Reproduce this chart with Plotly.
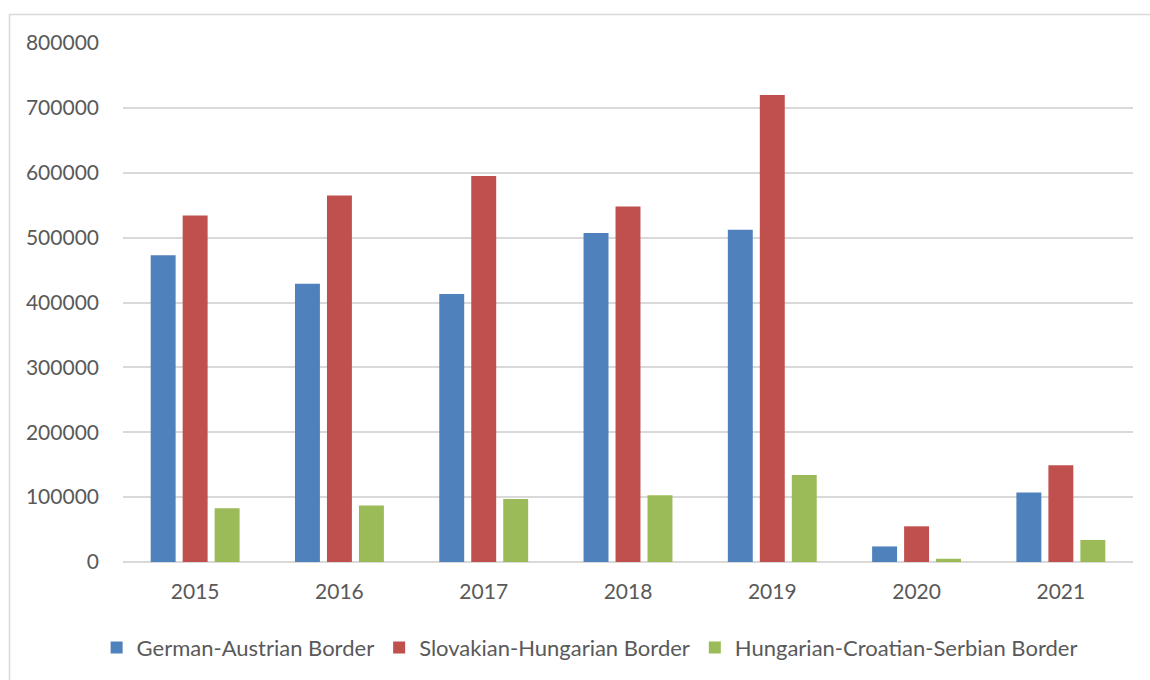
import plotly.graph_objects as go

years = ["2015", "2016", "2017", "2018", "2019", "2020", "2021"]
german_austrian = [473000, 429000, 413000, 507000, 512000, 24000, 107000]
slovakian_hungarian = [534000, 565000, 595000, 548000, 720000, 55000, 149000]
hungarian_croatian_serbian = [83000, 87000, 97000, 103000, 134000, 5000, 34000]

series_names = ["German-Austrian Border", "Slovakian-Hungarian Border",
                "Hungarian-Croatian-Serbian Border"]
colors = ["#4F81BD", "#C0504D", "#9BBB59"]
y_ticks = [0, 100000, 200000, 300000, 400000, 500000, 600000, 700000, 800000]

fig = go.Figure()
for name, vals, col in zip(series_names,
                           [german_austrian, slovakian_hungarian, hungarian_croatian_serbian],
                           colors):
    fig.add_trace(go.Bar(x=years, y=vals, name=name, marker_color=col,
                         marker_line_width=0))

font_fam = "Lato, 'Open Sans', sans-serif"
fig.update_layout(
    width=1150, height=680,
    margin=dict(l=123, r=17, t=43, b=117),
    paper_bgcolor="white", plot_bgcolor="white",
    barmode="group", bargap=0.335, bargroupgap=0.22,
    font=dict(family=font_fam, size=21, color="#595959"),
    showlegend=True,
    legend=dict(orientation="h", x=0.462, xanchor="center", y=-0.163, yanchor="middle",
                font=dict(size=22, color="#595959"), itemsizing="constant",
                traceorder="normal"),
    xaxis=dict(showgrid=False, showline=False, ticks="", tickfont=dict(size=21),
               ticklabelstandoff=15),
    yaxis=dict(range=[0, 800000], tickvals=y_ticks, tickformat="d",
               showgrid=True, gridcolor="#D9D9D9", gridwidth=1.5,
               zeroline=True, zerolinecolor="#D9D9D9", zerolinewidth=1.5,
               showline=False, ticks="", tickfont=dict(size=21),
               ticklabelstandoff=23),
    shapes=[dict(type="rect", xref="paper", yref="paper",
                 x0=(9.5 - 123) / 1010, x1=(1160 - 123) / 1010,
                 y0=(563 - 700) / 520, y1=(563 - 14.5) / 520,
                 line=dict(color="#D9D9D9", width=1.5), fillcolor="rgba(0,0,0,0)",
                 layer="below")],
)

fig.write_html("out.html")
